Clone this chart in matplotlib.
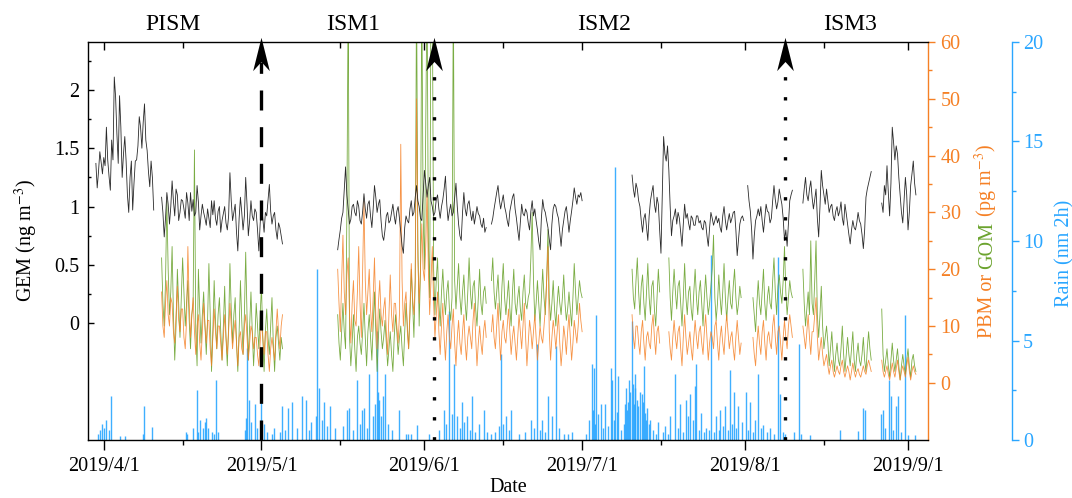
import numpy as np
import matplotlib
matplotlib.use("Agg")
import matplotlib.pyplot as plt
import matplotlib.dates as mdates
from matplotlib.path import Path
from matplotlib.ticker import FuncFormatter, FixedLocator

plt.rcParams['font.family'] = ['Liberation Serif', 'DejaVu Serif']
plt.rcParams['mathtext.fontset'] = 'stix'
plt.rcParams['font.size'] = 14.5

nan = np.nan
#--------------------------------
# days after 2019/4/1, four readings a day (one row = two days)
step = 0.25
gem_start = [-1.5, 11.0, 44.5, 100.5, 133.0, 148.0]
gem_1 = [1.37, 1.16, 1.30, 1.47, 1.38, 1.28, 1.42, 1.35,
         1.68, 1.40, 1.26, 1.14, 1.57, 1.40, 2.11, 1.94,
         1.62, 1.37, 1.95, 1.68, 1.25, 1.45, 1.60, 1.39,
         1.10, 0.95, 1.25, 1.39, 0.97, 1.20, 1.39, 1.40,
         1.52, 1.77, 1.68, 1.50, 1.72, 1.88, 1.57, 1.48,
         1.30, 1.17, 1.39, 1.25, 0.97]
gem_2 = [1.08, 0.95, 0.74, 0.90, 1.12, 1.02, 0.85, 1.00,
         1.22, 1.05, 0.92, 1.15, 1.10, 0.88, 0.95, 1.06,
         1.05, 0.98, 0.90, 1.12, 1.03, 0.88, 1.12, 0.96,
         1.06, 0.92, 0.95, 1.18, 1.04, 0.80, 0.92, 1.02,
         0.95, 0.90, 0.84, 0.98, 0.90, 0.82, 1.05, 0.93,
         1.05, 0.90, 0.84, 0.96, 1.00, 0.78, 0.88, 0.94,
         1.00, 0.86, 0.80, 0.92, 1.29, 1.05, 0.88, 0.95,
         1.02, 0.78, 0.62, 0.90, 1.08, 0.95, 0.80, 0.92,
         1.25, 1.02, 0.75, 0.88, 1.05, 0.92, 0.88, 0.98,
         0.95, 0.80, 0.62, 0.85, 1.02, 0.90, 0.78, 0.95,
         0.92, 1.05, 1.19, 0.96, 0.85, 0.92, 0.95, 0.80,
         0.72, 0.86, 0.82, 0.75, 0.68]
gem_3 = [0.63, 0.72, 0.80, 0.90, 0.95, 1.15, 1.34, 1.10,
         0.98, 0.85, 0.89, 1.00, 1.02, 0.95, 0.92, 1.05,
         1.00, 0.88, 0.85, 0.96, 1.11, 0.98, 0.90, 1.02,
         1.05, 0.92, 0.82, 0.98, 1.18, 1.08, 0.95, 1.02,
         1.06, 0.88, 0.75, 0.71, 0.80, 0.92, 0.95, 0.86,
         0.88, 0.95, 1.02, 0.92, 0.85, 0.96, 1.00, 0.90,
         0.78, 0.66, 0.60, 0.82, 0.92, 0.88, 0.86, 0.98,
         1.05, 0.92, 0.95, 1.08, 1.18, 1.05, 1.00, 0.90,
         0.88, 1.10, 1.31, 1.20, 1.08, 1.18, 1.25, 1.05,
         1.00, 0.92, 0.95, 1.06, 1.10, 0.98, 0.90, 1.00,
         1.06, 1.15, 1.26, 1.02, 0.88, 0.96, 1.02, 0.92,
         0.95, 1.08, 1.20, 1.00, 0.85, 0.75, 0.71, 0.95,
         1.12, 0.98, 0.92, 1.02, 1.05, 0.95, 0.88, 0.96,
         0.85, 0.92, 1.00, 0.94, 0.92, 0.85, 0.82, 0.90,
         0.78, 0.82, nan, nan, nan, 0.85, 0.90, 0.98,
         1.05, 1.12, 1.18, 1.06, 0.98, 1.04, 1.10, 1.00,
         0.95, 0.88, 0.83, 0.96, 1.02, 1.08, 1.11, 0.98,
         0.90, 0.80, 0.71, 0.86, 1.02, 0.94, 0.92, 0.98,
         0.95, 0.86, 0.80, 0.96, 1.05, 0.92, 0.98, 0.88,
         0.80, 0.70, 0.63, 0.90, 1.06, 0.98, 0.95, 0.88,
         0.82, 0.72, 0.63, 0.85, 0.98, 1.02, 1.00, 0.94,
         0.90, 0.78, 0.66, 0.80, 0.88, 0.96, 1.00, 0.90,
         0.78, 0.88, 0.96, 1.05, 1.16, 1.08, 1.02, 1.10,
         1.08, 1.12, 1.05]
gem_4 = [1.27, 1.15, 1.08, 1.20, 1.15, 1.05, 1.00, 0.88,
         0.78, 0.90, 0.94, 0.82, 0.71, 0.92, 1.05, 1.12,
         1.18, 1.02, 0.95, 1.08, 1.02, 0.80, 0.60, 1.10,
         1.60, 1.45, 1.39, 1.52, 1.31, 1.00, 0.75, 0.88,
         0.92, 0.98, 0.85, 0.95, 0.90, 0.78, 0.66, 0.85,
         1.02, 0.90, 0.94, 0.86, 0.80, 0.92, 0.90, 0.84,
         0.84, 0.92, 0.92, 0.86, 0.88, 0.82, 0.80, 0.88,
         0.86, 0.75, 0.66, 0.82, 0.95, 0.90, 0.84, 0.88,
         0.92, 0.86, 0.90, 0.82, 0.78, 0.92, 1.00, 0.88,
         0.80, 0.88, 0.94, 0.86, 0.90, 0.95, 0.96, 0.80,
         0.58, 0.72, 0.85, 0.90, 0.92, 0.88, nan, nan,
         1.18, 1.05, 0.96, 0.80, 0.55, 0.75, 0.88, 0.92,
         0.98, 0.92, 1.00, 0.88, 0.78, 0.90, 1.02, 0.96,
         0.95, 0.86, 0.90, 1.05, 1.18, 1.06, 0.98, 1.04,
         1.15, 1.08, 1.02, 0.90, 0.71, 0.80, 0.66, 0.85,
         1.05, 1.10, 1.14]
gem_5 = [1.03, 1.15, 1.25, 1.10, 1.05, 1.15, 1.22, 1.08,
         0.98, 1.06, 1.15, 0.90, 0.74, 1.00, 1.31, 1.18,
         1.10, 1.02, 1.15, 1.05, 0.95, 1.00, 1.02, 0.92,
         0.88, 0.96, 1.00, 0.92, 0.96, 1.04, 0.90, 0.84,
         1.02, 0.94, 0.85, 0.76, 0.68, 0.80, 0.88, 0.82,
         0.80, 0.86, 0.95, 0.88, 0.85, 0.76, 0.64, 0.80,
         1.08, 1.15, 1.20, 1.25, 1.30]
gem_6 = [1.03, 0.95, 1.18, 1.10, 1.35, 1.12, 0.92, 1.20,
         1.68, 1.55, 1.40, 1.52, 1.45, 1.25, 1.10, 0.95,
         0.86, 1.05, 1.25, 1.10, 0.80, 0.95, 1.18, 1.28,
         1.39, 1.20, 1.10]

pm_start = [11.0, 44.5, 100.5, 133.0, 148.0]
pbm_1 = [16, 10, 8, 14, 18, 12, 10, 15,
         14, 9, 7, 12, 17, 11, 9, 13,
         13, 8, 6, 11, 24, 14, 8, 12,
         15, 9, 5, 10, 12, 7, 4, 9,
         14, 10, 7, 11, 11, 6, 3, 8,
         13, 9, 6, 10, 10, 7, 4, 8,
         12, 8, 5, 9, 14, 10, 6, 9,
         11, 7, 3, 8, 9, 6, 5, 10,
         12, 8, 4, 7, 10, 9, 6, 8,
         8, 5, 3, 7, 11, 8, 5, 9,
         9, 5, 2, 6, 8, 6, 4, 9,
         13, 9, 6, 10, 12]
gom_1 = [22, 14, 10, 18, 32, 20, 12, 16,
         24, 12, 4, 10, 20, 14, 8, 15,
         22, 16, 10, 14, 18, 11, 6, 12,
         14, 41, 9, 3, 20, 13, 7, 12,
         16, 10, 5, 11, 21, 12, 2, 9,
         18, 11, 6, 12, 15, 9, 4, 10,
         17, 8, 3, 10, 21, 13, 7, 12,
         15, 7, 2, 9, 18, 11, 5, 12,
         23, 12, 4, 10, 16, 9, 3, 8,
         14, 10, 6, 12, 17, 8, 2, 9,
         13, 8, 5, 10, 15, 7, 2, 8,
         10, 7, 4, 8, 6]
pbm_2 = [20, 14, 9, 18, 26, 16, 12, 19,
         22, 12, 7, 14, 18, 11, 10, 16,
         24, 14, 8, 20, 32, 18, 12, 16,
         20, 13, 9, 15, 22, 12, 6, 14,
         18, 12, 10, 13, 15, 9, 5, 12,
         19, 12, 9, 14, 14, 10, 7, 12,
         42, 18, 10, 14, 16, 9, 6, 13,
         21, 15, 12, 18, 50, 22, 14, 20,
         28, 20, 18, 24, 34, 20, 12, 18,
         24, 14, 8, 12, 16, 9, 5, 10,
         14, 8, 4, 9, 12, 8, 6, 10,
         13, 7, 3, 8, 11, 7, 5, 9,
         12, 7, 4, 8, 10, 8, 6, 11,
         14, 8, 3, 7, 10, 7, 5, 9,
         11, 8, nan, nan, nan, 9, 12, 8,
         6, 10, 14, 8, 4, 9, 11, 8,
         7, 10, 13, 9, 5, 8, 10, 7,
         4, 8, 12, 9, 6, 10, 14, 8,
         3, 7, 11, 9, 6, 9, 12, 8,
         4, 7, 10, 8, 7, 10, 13, 18,
         24, 9, 4, 8, 11, 9, 6, 9,
         12, 7, 3, 6, 10, 8, 5, 9,
         12, 8, 4, 7, 11, 9, 7, 10,
         14, 11, 9]
gom_2 = [12, 7, 4, 9, 14, 9, 6, 30,
         70, 8, 3, 7, 12, 6, 2, 8,
         10, 7, 5, 9, 14, 8, 3, 9,
         12, 8, 4, 10, 16, 9, 2, 8,
         13, 9, 6, 8, 11, 7, 3, 6,
         9, 5, 2, 8, 12, 9, 5, 8,
         10, 6, 3, 9, 14, 10, 6, 12,
         20, 14, 8, 18, 70, 25, 10, 20,
         70, 30, 20, 45, 70, 25, 15, 70,
         70, 20, 12, 18, 22, 14, 10, 16,
         20, 15, 12, 16, 18, 13, 11, 15,
         70, 18, 13, 17, 21, 15, 12, 16,
         19, 14, 11, 16, 22, 16, 13, 17,
         18, 13, 10, 15, 20, 14, 12, 16,
         17, 14, nan, nan, nan, 18, 22, 16,
         13, 16, 19, 14, 11, 17, 21, 15,
         12, 15, 18, 13, 10, 16, 20, 14,
         12, 15, 17, 13, 11, 16, 19, 14,
         13, 15, 16, 22, 30, 18, 11, 14,
         18, 14, 10, 15, 20, 15, 12, 18,
         27, 15, 11, 14, 18, 13, 10, 14,
         17, 14, 12, 15, 19, 14, 11, 13,
         16, 13, 10, 15, 21, 16, 12, 15,
         18, 16, 15]
pbm_3 = [12, 8, 6, 10, 10, 7, 5, 9,
         11, 7, 4, 8, 9, 7, 6, 10,
         12, 8, 5, 9, 10, 7, nan, nan,
         nan, nan, nan, nan, 9, 6, 4, 8,
         11, 8, 6, 9, 10, 6, 3, 8,
         12, 8, 5, 7, 9, 6, 4, 8,
         11, 8, 6, 9, 10, 7, 5, 9,
         12, 8, 4, 7, 9, 8, 6, 10,
         11, 7, 4, 8, 10, 7, 5, 9,
         12, 9, 6, 8, 9, 6, 4, 8,
         11, 8, 5, 7, nan, nan, nan, nan,
         nan, nan, nan, nan, 8, 5, 3, 7,
         10, 7, 5, 9, 11, 7, 4, 8,
         9, 7, 6, 10, 12, 8, 5, 9,
         10, 7, 4, 8, 11, 8, 6, 10,
         12, 10, 8]
gom_3 = [20, 15, 13, 18, 22, 16, 12, 17,
         19, 14, 11, 16, 21, 15, 12, 17,
         18, 13, 10, 15, 20, 16, nan, nan,
         nan, nan, nan, nan, 22, 15, 11, 16,
         20, 16, 13, 17, 18, 14, 10, 15,
         21, 15, 12, 16, 17, 13, 11, 16,
         20, 15, 12, 16, 18, 14, 10, 15,
         19, 15, 12, 14, 17, 20, 26, 15,
         11, 14, 19, 15, 12, 16, 21, 15,
         11, 15, 18, 14, 13, 17, 20, 15,
         12, 14, 17, 15, nan, nan, nan, nan,
         nan, nan, nan, nan, 15, 12, 9, 14,
         18, 14, 12, 16, 20, 14, 11, 15,
         17, 14, 13, 18, 22, 16, 12, 17,
         19, 16, 14, 18, 24, 16, 12, 15,
         18, 16, 15]
pbm_4 = [10, 8, 6, 9, 12, 8, 5, 9,
         9, 12, 15, 8, 4, 6, 8, 5,
         3, 4, 5, 3, 1.5, 3, 4, 2,
         1, 2, 3, 2, 1.5, 3, 4, 2,
         1, 2, 3, 2, 0.5, 2, 3.5, 2,
         1, 2, 2.5, 1.5, 1, 2, 3, 2,
         1.5, 3, 4, 3, 2]
gom_4 = [20, 14, 10, 13, 16, 12, 25, 14,
         12, 18, 25, 12, 8, 12, 17, 10,
         6, 8, 10, 7, 3, 6, 9, 5,
         2, 5, 7, 4, 3, 6, 10, 5,
         2, 5, 8, 5, 3, 6, 9, 4,
         2, 5, 7, 4, 3, 5, 8, 4,
         2, 6, 9, 6, 4]
pbm_5 = [4, 2, 1, 2, 3, 1.5, 0.5, 2,
         3.5, 2, 1, 2.5, 4, 2, 0.5, 2,
         3, 2, 1, 3, 4.5, 2, 0.5, 2,
         3, 2, 1.5]
gom_5 = [13, 5, 2, 4, 6, 3, 1, 4,
         7, 4, 2, 4, 6, 3, 0.5, 3,
         5, 3, 1.5, 4, 6, 3, 1, 4,
         5, 3, 2]

rain_day = [-1.1, -0.8, -0.4, 0.0, 0.4, 0.9, 1.3, 3.0, 4.0, 7.4,
            7.6, 9.1, 15.6, 15.9, 16.9, 17.8, 18.0, 18.4, 18.8, 19.2,
            19.5, 19.9, 20.5, 20.9, 21.4, 21.8, 26.8, 27.0, 27.3, 27.7,
            28.0, 28.7, 29.2, 30.0, 30.4, 31.1, 32.0, 32.4, 33.5, 34.0,
            34.5, 35.1, 35.9, 36.8, 37.8, 38.5, 39.0, 39.5, 40.3, 40.6,
            41.0, 41.5, 41.9, 42.5, 43.1, 44.0, 45.5, 46.3, 46.7, 47.5,
            48.2, 48.7, 49.1, 49.5, 50.0, 50.5, 51.2, 51.6, 52.0, 52.2,
            52.4, 52.8, 53.1, 53.5, 54.0, 54.8, 56.2, 57.5, 57.9, 58.4,
            59.6, 61.9, 63.8, 64.7, 65.1, 65.7, 66.2, 66.6, 67.2, 67.7,
            68.1, 68.6, 69.1, 69.6, 70.0, 70.6, 71.3, 72.3, 73.0, 73.6,
            74.4, 75.1, 75.5, 76.0, 76.5, 77.0, 77.4, 78.9, 80.1, 81.2,
            81.8, 82.4, 82.9, 83.3, 84.0, 84.6, 85.2, 86.1, 86.6, 87.5,
            88.4, 89.0, 91.8, 92.3, 92.8, 93.0, 93.2, 93.5, 93.7, 94.1,
            94.5, 95.0, 95.4, 95.9, 96.4, 96.6, 97.0, 97.3, 97.6, 97.9,
            98.4, 98.9, 99.2, 99.4, 99.6, 99.8, 100.0, 100.2, 100.4, 100.6,
            100.8, 101.0, 101.1, 101.4, 101.7, 102.0, 102.3, 102.5, 102.7, 103.0,
            103.2, 103.4, 103.7, 104.0, 104.5, 105.0, 105.5, 106.3, 106.8, 107.3,
            107.8, 108.7, 109.2, 109.7, 110.2, 110.8, 111.2, 111.6, 112.1, 112.5,
            112.7, 113.2, 113.7, 114.2, 114.6, 115.2, 115.6, 116.0, 116.5, 117.0,
            117.3, 117.8, 118.2, 118.8, 119.2, 119.6, 119.9, 120.3, 120.7, 121.4,
            122.2, 122.6, 123.0, 123.5, 123.9, 124.5, 125.0, 125.4, 126.1, 126.8,
            127.5, 128.3, 128.7, 129.2, 129.6, 131.3, 132.3, 132.6, 134.3, 140.0,
            143.5, 144.4, 144.8, 147.8, 148.2, 148.6, 149.3, 149.7, 150.2, 150.7,
            151.0, 151.6, 152.4, 153.0, 154.3]
rain_mm = [0.3, 0.5, 0.8, 0.6, 1.0, 0.5, 2.2, 0.2, 0.2, 0.3,
           1.7, 0.65, 0.4, 0.3, 0.6, 2.5, 0.4, 1.0, 0.6, 0.9,
           1.1, 0.6, 0.4, 0.3, 3.0, 0.4, 0.5, 1.1, 4.6, 2.0,
           0.9, 1.8, 0.6, 2.0, 0.8, 0.4, 0.3, 0.6, 0.4, 1.7,
           0.5, 1.6, 1.9, 0.6, 2.2, 2.0, 0.5, 0.9, 1.2, 8.6,
           2.6, 1.0, 1.9, 0.7, 1.7, 0.6, 0.7, 1.5, 1.6, 0.5,
           3.0, 0.8, 1.5, 1.6, 0.6, 3.3, 1.2, 1.8, 5.5, 2.4,
           2.0, 1.2, 2.2, 3.3, 0.8, 0.5, 1.5, 0.3, 0.3, 0.3,
           0.75, 0.3, 0.5, 1.5, 0.8, 6.5, 1.3, 3.8, 1.2, 0.6,
           1.9, 0.9, 1.2, 0.5, 2.2, 0.4, 0.8, 1.5, 0.4, 0.3,
           0.4, 0.7, 4.3, 0.8, 1.2, 0.5, 1.5, 0.3, 0.4, 1.0,
           0.6, 4.8, 0.5, 1.0, 0.4, 2.2, 1.2, 4.7, 0.6, 0.3,
           0.3, 0.4, 0.3, 1.0, 3.8, 1.5, 3.6, 0.8, 6.3, 1.3,
           1.8, 0.6, 1.8, 0.7, 3.6, 3.0, 1.0, 13.7, 1.4, 3.2,
           0.5, 0.8, 1.8, 2.6, 1.5, 1.9, 3.0, 2.4, 6.0, 2.8,
           1.8, 2.6, 3.3, 2.0, 1.7, 2.4, 2.3, 1.9, 3.7, 1.35,
           1.0, 1.6, 0.8, 1.0, 0.5, 0.3, 0.9, 0.4, 0.7, 0.3,
           1.2, 3.3, 0.6, 1.8, 0.4, 2.0, 1.2, 2.3, 1.0, 2.7,
           3.8, 0.5, 1.35, 0.4, 0.6, 0.5, 9.3, 0.4, 1.2, 0.5,
           1.5, 0.7, 1.7, 0.5, 3.5, 0.8, 2.4, 0.6, 1.7, 0.9,
           2.4, 0.5, 1.9, 0.4, 1.0, 3.3, 0.6, 0.75, 0.4, 0.6,
           0.3, 9.2, 2.3, 0.4, 0.3, 0.42, 4.8, 0.3, 0.25, 0.5,
           0.47, 1.6, 1.5, 1.3, 1.5, 0.6, 3.0, 2.2, 0.5, 1.7,
           2.2, 0.4, 6.3, 0.25, 0.25]

phase_names = ["PISM", "ISM1", "ISM2", "ISM3"]
phase_mid = [13.1, 47.5, 95.1, 142.0]
onset_day = [30.0, 62.8, 129.6]
onset_style = [(0, (6, 5)), (0, (1, 5)), (0, (1, 5))]
#--------------------------------

c_orange = '#F58025'
c_green = '#6BA32E'
c_blue = '#2AA6FF'

base = mdates.date2num(np.datetime64('2019-04-01'))


def join_segments(starts, segs):
    xs, ys = [], []
    for s, vals in zip(starts, segs):
        xs.extend(base + s + step * np.arange(len(vals)))
        ys.extend(vals)
        xs.append(np.nan)
        ys.append(np.nan)
    return np.array(xs), np.array(ys, dtype=float)


gem_x, gem_y = join_segments(gem_start, [gem_1, gem_2, gem_3, gem_4, gem_5, gem_6])
pbm_x, pbm_y = join_segments(pm_start, [pbm_1, pbm_2, pbm_3, pbm_4, pbm_5])
gom_x, gom_y = join_segments(pm_start, [gom_1, gom_2, gom_3, gom_4, gom_5])

fig = plt.figure(figsize=(10.72, 4.98), dpi=100)
ax = fig.add_axes([88 / 1072, 58 / 498, 840 / 1072, 398 / 498])
ax2 = ax.twinx()
ax3 = ax.twinx()
ax3.set_zorder(1)
ax2.set_zorder(2)
ax.set_zorder(3)
ax.patch.set_visible(False)
ax2.patch.set_visible(False)

# rain bars
ax3.vlines(base + np.array(rain_day), 0, rain_mm, color=c_blue, lw=1.0, alpha=0.9)
ax3.set_ylim(0, 20)

# PBM / GOM
ax2.plot(gom_x, gom_y, color=c_green, lw=0.6, alpha=0.9)
ax2.plot(pbm_x, pbm_y, color=c_orange, lw=0.6, alpha=0.85)
ax2.set_ylim(-10.06, 60)

# GEM
ax.plot(gem_x, gem_y, color='#2a2a2a', lw=0.6)
ax.set_ylim(-1.0, 2.41)
ax.set_xlim(base - 3.0, base + 156.8)

# x ticks
ax.xaxis.set_major_locator(mdates.MonthLocator())
ax.xaxis.set_minor_locator(mdates.DayLocator(bymonthday=16))
ax.xaxis.set_major_formatter(FuncFormatter(
    lambda v, p: "{0}/{1}/{2}".format(*mdates.num2date(v).timetuple()[:3])))
ax.tick_params(axis='x', which='major', direction='out', length=7, width=1, pad=5)
ax.tick_params(axis='x', which='minor', direction='out', length=3.5, width=1)
ax.set_xlabel('Date', labelpad=2)

# mirrored ticks on the top edge, pointing in
ax2.xaxis.set_visible(True)
ax2.xaxis.tick_top()
ax2.tick_params(axis='x', which='both', direction='in', top=True, bottom=False,
                labeltop=False, labelbottom=False, width=1)
ax2.tick_params(axis='x', which='major', length=6)
ax2.tick_params(axis='x', which='minor', length=4)

# left axis
ax.yaxis.set_major_locator(FixedLocator([0, 0.5, 1, 1.5, 2]))
ax.yaxis.set_minor_locator(FixedLocator([0.25, 0.75, 1.25, 1.75, 2.25]))
ax.yaxis.set_major_formatter(FuncFormatter(lambda v, p: '{:g}'.format(v)))
ax.tick_params(axis='y', which='major', direction='in', length=4, width=1, pad=6)
ax.tick_params(axis='y', which='minor', direction='in', length=2.5, width=1)
ax.spines['right'].set_visible(False)
for s in ['left', 'top', 'bottom']:
    ax.spines[s].set_linewidth(1.0)

# orange axis
for s in ['left', 'top', 'bottom']:
    ax2.spines[s].set_visible(False)
ax2.spines['right'].set_color(c_orange)
ax2.spines['right'].set_linewidth(1.0)
ax2.yaxis.set_major_locator(FixedLocator(range(0, 61, 10)))
ax2.yaxis.set_minor_locator(FixedLocator(range(5, 60, 10)))
ax2.tick_params(axis='y', which='major', direction='out', length=5, width=1,
                color=c_orange, labelcolor=c_orange, pad=4)
ax2.tick_params(axis='y', which='minor', direction='out', length=3, width=1,
                color=c_orange)

# blue axis
for s in ['left', 'top', 'bottom']:
    ax3.spines[s].set_visible(False)
ax3.spines['right'].set_position(('axes', 1.1))
ax3.spines['right'].set_color(c_blue)
ax3.spines['right'].set_linewidth(1.0)
ax3.yaxis.set_major_locator(FixedLocator([0, 5, 10, 15, 20]))
ax3.yaxis.set_minor_locator(FixedLocator([2.5, 7.5, 12.5, 17.5]))
ax3.tick_params(axis='y', which='major', direction='out', length=5, width=1,
                color=c_blue, labelcolor=c_blue, pad=3)
ax3.tick_params(axis='y', which='minor', direction='out', length=3, width=1,
                color=c_blue)

# axis titles
fig.text(32 / 1072, 0.5 * (58 + 456) / 498, 'GEM (ng m$^{-3}$)', rotation=90,
         rotation_mode='anchor', ha='center', va='baseline')
fig.text(1069 / 1072, (498 - 253) / 498, 'Rain (nm 2h)', rotation=90,
         rotation_mode='anchor', ha='center', va='baseline', color=c_blue)

renderer = fig.canvas.get_renderer()
parts = [('PBM or', c_orange), ('GOM', c_green), ('(pg m$^{-3}$)', c_orange)]
pieces = [fig.text(992 / 1072, 0, s, rotation=90, rotation_mode='anchor',
                   ha='left', va='baseline', color=c) for s, c in parts]
lens = [t.get_window_extent(renderer).height for t in pieces]
gap = 0.25 * 14.5 * 100 / 72
total = sum(lens) + gap * (len(lens) - 1)
y = 0.5 * (58 + 456) - total / 2
for t, L in zip(pieces, lens):
    t.set_y(y / 498)
    y += L + gap

# phase names
for name, d in zip(phase_names, phase_mid):
    ax.text(base + d, 1.043, name, transform=ax.get_xaxis_transform(),
            ha='center', va='center', fontsize=17)

# monsoon onset arrows
head = Path([(0, 1), (-0.5, -1), (0, -0.45), (0.5, -1), (0, 1)],
            [Path.MOVETO, Path.LINETO, Path.LINETO, Path.LINETO, Path.CLOSEPOLY])
for d, ls in zip(onset_day, onset_style):
    ax.plot([base + d, base + d], [0, 0.95], transform=ax.get_xaxis_transform(),
            color='k', lw=2.4, ls=ls, clip_on=False, zorder=8)
    ax.plot([base + d], [0.971], transform=ax.get_xaxis_transform(), marker=head,
            markersize=24, color='k', mew=0, clip_on=False, zorder=9)

fig.savefig('out.png', dpi=100)
